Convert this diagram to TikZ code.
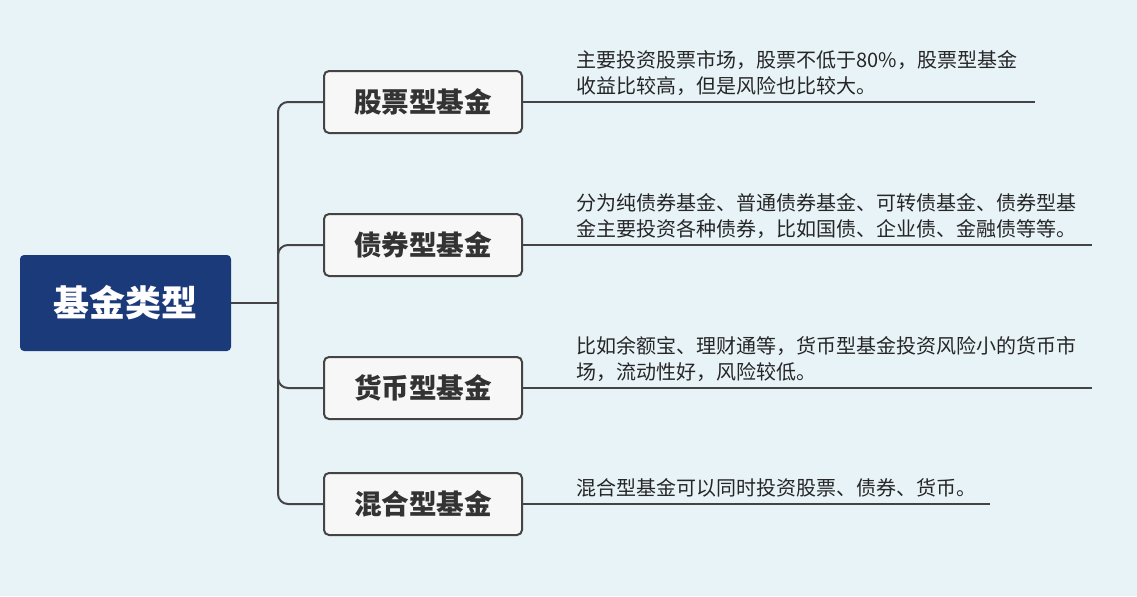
\documentclass[tikz,border=0pt]{standalone}
\usepackage{fontspec}
\newfontfamily\cjk{Noto Sans CJK SC}
\definecolor{bg}{HTML}{E8F3F8}
\definecolor{rootblue}{HTML}{1B3A7A}
\definecolor{edge}{HTML}{444444}
\tikzset{
  rootbox/.style={draw=none,fill=rootblue,rounded corners=2pt,minimum width=105.5pt,minimum height=48pt,text=white,font=\cjk\fontsize{18}{20}\selectfont\bfseries},
  kindbox/.style={draw=edge,line width=1pt,fill=white!97!black,rounded corners=2.5pt,minimum width=99pt,minimum height=31pt,text=black!80,font=\cjk\fontsize{13.8}{16}\selectfont\bfseries},
  note/.style={anchor=south west,align=left,inner sep=0pt,text=black!85,font=\cjk\fontsize{10}{13}\selectfont},
  link/.style={draw=edge,line width=1pt,rounded corners=5pt},
  rule/.style={draw=edge,line width=0.7pt}
}
\begin{document}
\begin{tikzpicture}[x=0.5pt,y=-0.5pt]
\fill[bg] (0,0) rectangle (1137,596);
\useasboundingbox (0,0) rectangle (1137,596);
\node[rootbox] (root) at (125.5,303) {基金类型};
\node[kindbox] (stock) at (423,102) {股票型基金};
\node[kindbox] (bond) at (423,245) {债券型基金};
\node[kindbox] (money) at (423,388) {货币型基金};
\node[kindbox] (mixed) at (423,504) {混合型基金};
\coordinate (fork) at (278,303);
\draw[link] (root.east) -- (fork);
\foreach \k in {stock,bond,money,mixed}
  \draw[link] (fork) |- (\k.west);
\coordinate (stock-end) at (1035,102);
\coordinate (bond-end) at (1092,245);
\coordinate (money-end) at (1092,388);
\coordinate (mixed-end) at (990,504);
\foreach \k in {stock,bond,money,mixed}
  \draw[rule] (\k.east) -- (\k-end);
\node[note] (stock-note) at (576,96) {主要投资股票市场，股票不低于80\%，股票型基金\\收益比较高，但是风险也比较大。};
\node[note] (bond-note) at (576,239) {分为纯债券基金、普通债券基金、可转债基金、债券型基\\金主要投资各种债券，比如国债、企业债、金融债等等。};
\node[note] (money-note) at (576,382) {比如余额宝、理财通等，货币型基金投资风险小的货币市\\场，流动性好，风险较低。};
\node[note] (mixed-note) at (576,498) {混合型基金可以同时投资股票、债券、货币。};
\end{tikzpicture}
\end{document}
